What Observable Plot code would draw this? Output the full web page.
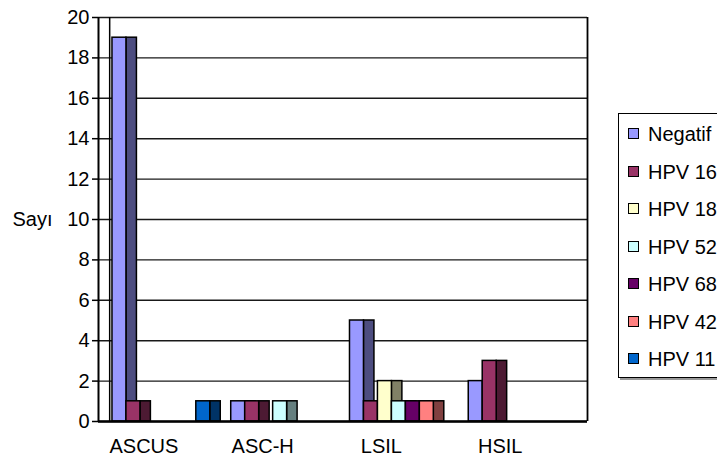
<!DOCTYPE html>
<html>
<head>
<meta charset="utf-8">
<script src="https://cdn.jsdelivr.net/npm/d3@7"></script>
<script src="https://cdn.jsdelivr.net/npm/@observablehq/plot@0.6"></script>
<style>
  html, body { margin: 0; padding: 0; background: #fff; overflow: hidden; }
  #wrap { position: relative; width: 717px; height: 461px; overflow: hidden; font-family: "Liberation Sans", Arial, sans-serif; }
  #legend { position: absolute; left: 618px; top: 113px; width: 200px; height: 263px; border: 1.5px solid #000; box-shadow: 2px 2px 0 #999; background: #fff; }
  .item { position: absolute; left: 0; height: 24px; line-height: 24px; font-size: 20px; color: #000; white-space: nowrap; }
  .sw { position: absolute; left: 9px; top: 6px; width: 9px; height: 9px; border: 1px solid #000; }
  .lbl { position: absolute; left: 29px; top: 0; }
</style>
</head>
<body>
<div id="wrap"></div>
<script>
const categories = ["ASCUS", "ASC-H", "LSIL", "HSIL"];
const series = ["Negatif", "HPV 16", "HPV 18", "HPV 52", "HPV 68", "HPV 42", "HPV 11"];
const negatif = [19, 1, 5, 2];
const hpv16   = [1, 1, 1, 3];
const hpv18   = [0, 0, 2, 0];
const hpv52   = [0, 1, 1, 0];
const hpv68   = [0, 0, 1, 0];
const hpv42   = [0, 0, 1, 0];
const hpv11   = [1, 0, 0, 0];
const yTicks = [0, 2, 4, 6, 8, 10, 12, 14, 16, 18, 20];
const colors = ["#9999FF", "#993366", "#FFFFCC", "#CCFFFF", "#660066", "#FF8080", "#0066CC"];

const values = [negatif, hpv16, hpv18, hpv52, hpv68, hpv42, hpv11];
const gap = 1.5;                       // gap between groups, in bar widths
const groupSlots = series.length + gap;
const depth = 0.75;                    // 3D side face, in bar widths
const labelSlot = 2.25;
const xDomain = [-1, categories.length * groupSlots];

function darker(c) {
  const r = d3.rgb(c);
  return d3.rgb(r.r * 0.5, r.g * 0.5, r.b * 0.5).formatHex();
}

const rows = [];
categories.forEach((cat, c) => {
  series.forEach((s, k) => {
    const v = values[k][c];
    if (v > 0) rows.push({cat, series: s, value: v, x1: c * groupSlots + k, x2: c * groupSlots + k + 1, fill: colors[k], side: darker(colors[k])});
  });
});

const font = "'Liberation Sans', Arial, sans-serif";

const chart = Plot.plot({
  width: 717,
  height: 461,
  marginLeft: 98,
  marginRight: 130,
  marginTop: 17,
  marginBottom: 40,
  style: {fontFamily: font, fontSize: "20px", background: "#fff", color: "#000"},
  x: {domain: xDomain, axis: null},
  y: {domain: [0, 20], axis: null},
  color: {type: "identity"},
  marks: [
    Plot.gridY(yTicks, {stroke: "#000", strokeOpacity: 0.9, strokeWidth: 1.4}),
    Plot.rect(rows, {x1: "x2", x2: d => d.x2 + depth, y1: 0, y2: "value", fill: "side", stroke: "#000", strokeWidth: 1.5}),
    Plot.rect(rows, {x1: "x1", x2: "x2", y1: 0, y2: "value", fill: "fill", stroke: "#000", strokeWidth: 1.5}),
    Plot.ruleX([xDomain[0]], {stroke: "#000", strokeWidth: 2}),
    Plot.ruleX([-0.2], {stroke: "#000", strokeWidth: 1.5}),
    Plot.ruleX([xDomain[1]], {stroke: "#000", strokeWidth: 1.8}),
    Plot.ruleY([0], {stroke: "#000", strokeWidth: 2.5}),
    Plot.axisY(yTicks, {tickSize: 6, tickPadding: 3, stroke: "#000", strokeWidth: 1.5, fontSize: 20, label: null}),
    Plot.axisX(categories.map((_, c) => c * groupSlots + labelSlot), {
      tickSize: 0, tickPadding: 17, fontSize: 20, label: null,
      tickFormat: v => categories[Math.round((v - labelSlot) / groupSlots)]
    }),
    Plot.text(["Sayı"], {y: [10], frameAnchor: "left", dx: -86, textAnchor: "start", fontSize: 20, fill: "#000"})
  ]
});

const wrap = document.getElementById("wrap");
wrap.appendChild(chart);

const legend = document.createElement("div");
legend.id = "legend";
series.forEach((s, k) => {
  const item = document.createElement("div");
  item.className = "item";
  item.style.top = (20 + k * 37.5 - 12) + "px";
  const sw = document.createElement("span");
  sw.className = "sw";
  sw.style.background = colors[k];
  const lbl = document.createElement("span");
  lbl.className = "lbl";
  lbl.textContent = s;
  item.appendChild(sw);
  item.appendChild(lbl);
  legend.appendChild(item);
});
wrap.appendChild(legend);
</script>
</body>
</html>
